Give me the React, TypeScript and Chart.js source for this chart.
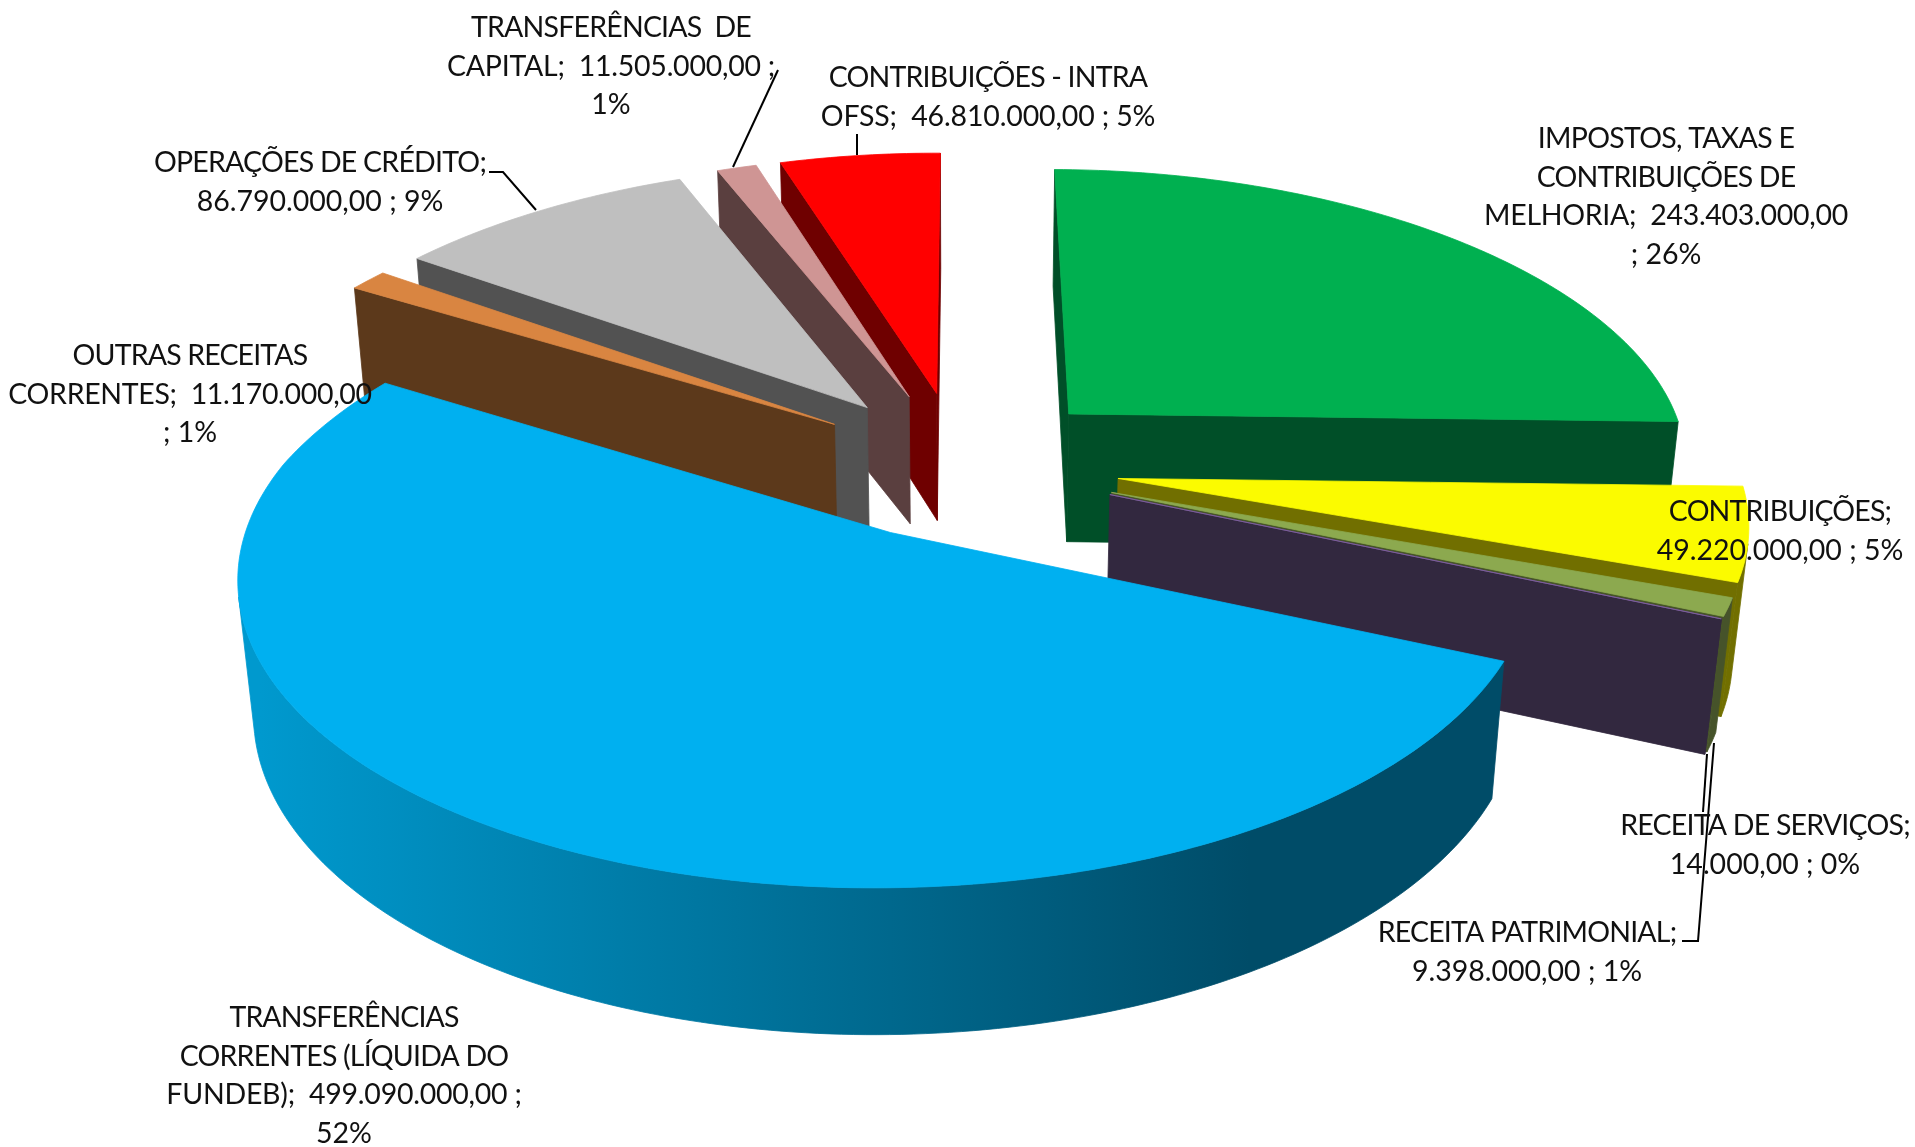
import React, { useEffect, useRef } from "react";
import { Chart, registerables } from "chart.js";

Chart.register(...registerables);

const categories = [
  "IMPOSTOS, TAXAS E CONTRIBUIÇÕES DE MELHORIA",
  "CONTRIBUIÇÕES",
  "RECEITA PATRIMONIAL",
  "RECEITA DE SERVIÇOS",
  "TRANSFERÊNCIAS CORRENTES (LÍQUIDA DO FUNDEB)",
  "OUTRAS RECEITAS CORRENTES",
  "OPERAÇÕES DE CRÉDITO",
  "TRANSFERÊNCIAS DE CAPITAL",
  "CONTRIBUIÇÕES - INTRA OFSS",
];
const values = [243403000, 49220000, 9398000, 14000, 499090000, 11170000, 86790000, 11505000, 46810000];

const labelLines = [
  ["IMPOSTOS, TAXAS E", "CONTRIBUIÇÕES DE", "MELHORIA;  243.403.000,00", "; 26%"],
  ["CONTRIBUIÇÕES;", "49.220.000,00 ; 5%"],
  ["RECEITA PATRIMONIAL;", "9.398.000,00 ; 1%"],
  ["RECEITA DE SERVIÇOS;", "14.000,00 ; 0%"],
  ["TRANSFERÊNCIAS", "CORRENTES (LÍQUIDA DO", "FUNDEB);  499.090.000,00 ;", "52%"],
  ["OUTRAS RECEITAS", "CORRENTES;  11.170.000,00", "; 1%"],
  ["OPERAÇÕES DE CRÉDITO;", "86.790.000,00 ; 9%"],
  ["TRANSFERÊNCIAS  DE", "CAPITAL;  11.505.000,00 ;", "1%"],
  ["CONTRIBUIÇÕES - INTRA", "OFSS;  46.810.000,00 ; 5%"],
];

// Styles and layout, in the order of the categories.
const topColors = ["#00B050", "#FBFB00", "#8CA94F", "#7F60A0", "#00B0F0", "#D98541", "#BFBFBF", "#CF9594", "#FF0000"];
const wallColors = ["#004F28", "#716F00", "#46532A", "#32283F", "#004C68", "#5C391B", "#525252", "#5A3F3F", "#6F0000"];
const rimLeftColors = ["#004F28", "#716F00", "#46532A", "#32283F", "#0099CE", "#5C391B", "#525252", "#5A3F3F", "#6F0000"];
const widthFit = [1, 0.992, 0.988, 0.986, 0.9876, 1, 1, 1, 1];
const shiftFit = [0, 0, 0, 0, -0.0065, 0, 0, 0, 0];
const labelAnchors = [
  [1666, 139], [1780, 512], [1527, 933], [1765, 826], [344, 1018], [190, 356], [320, 163], [611, 28], [988, 78],
];
const LINE_HEIGHT = 38.6;
const FONT = '28.5px Lato, "Open Sans", sans-serif';
const leaders = [
  [[778, 70], [733, 167]],
  [[857, 134], [857, 155]],
  [[489, 172], [503, 172], [536, 210]],
  [[1682, 941], [1698, 941], [1714, 743]],
  [[1707, 754], [1703, 812]],
];

// Camera of the 3D pie: unit radius world, explosion and thickness in radii.
const CAM = {
  ox: 964, oy: 464.5, a: 629, b: 289, c: 629, p: 0.131, pFar: 0.16, q: 0.1, qy: 0.075, r: 0.006,
  explodeX: 0.2467, explodeY: 0.257, skew: -0.0075, depth: 0.21,
};

type P = [number, number];

function project(x: number, y: number, z: number): P {
  const wx = 1 + (y > 0 ? CAM.pFar : CAM.p) * y + CAM.q * z + CAM.r * x;
  const wy = 1 + CAM.p * y + CAM.qy * z + CAM.r * x;
  return [CAM.ox + (CAM.a * x) / wx, CAM.oy + (-CAM.b * y + CAM.c * z) / wy];
}
function shoelace(pts: P[]) {
  let s = 0;
  pts.forEach((p, i) => {
    const n = pts[(i + 1) % pts.length];
    s += p[0] * n[1] - n[0] * p[1];
  });
  return s;
}
function fillPoly(ctx: CanvasRenderingContext2D, pts: P[], color: any) {
  ctx.beginPath();
  pts.forEach((p, i) => (i ? ctx.lineTo(p[0], p[1]) : ctx.moveTo(p[0], p[1])));
  ctx.closePath();
  ctx.fillStyle = color;
  ctx.strokeStyle = color;
  ctx.lineWidth = 0.8;
  ctx.lineJoin = "round";
  ctx.fill();
  ctx.stroke();
}

const pie3d = {
  id: "pie3d",
  beforeDatasetsDraw(chart: any) {
    const ctx: CanvasRenderingContext2D = chart.ctx;
    const arcs = chart.getDatasetMeta(0).data.map((arc: any, i: number) => {
      const { startAngle, endAngle } = arc.getProps(["startAngle", "endAngle"], true);
      const mid = (startAngle + endAngle) / 2;
      const ux = Math.cos(mid);
      const uy = -Math.sin(mid);
      return {
        i,
        startAngle,
        endAngle,
        cx: CAM.explodeX * ux + CAM.skew * uy + shiftFit[i],
        cy: CAM.explodeY * uy,
      };
    });
    arcs.sort((u: any, v: any) => v.cy - u.cy || u.i - v.i);
    ctx.save();
    for (const s of arcs) {
      const rim = (ang: number, z: number) =>
        project(s.cx + widthFit[s.i] * Math.cos(ang), s.cy - Math.sin(ang), z);
      const T = CAM.depth;
      const apexT = project(s.cx, s.cy, 0);
      const apexB = project(s.cx, s.cy, T);
      const startWall: P[] = [apexT, rim(s.startAngle, 0), rim(s.startAngle, T), apexB];
      const endWall: P[] = [apexT, rim(s.endAngle, 0), rim(s.endAngle, T), apexB];
      if (shoelace(startWall) < 0) fillPoly(ctx, startWall, wallColors[s.i]);
      if (shoelace(endWall) > 0) fillPoly(ctx, endWall, wallColors[s.i]);
      const n = Math.max(2, Math.ceil((s.endAngle - s.startAngle) * 60));
      const da = (s.endAngle - s.startAngle) / n;
      const shade = ctx.createLinearGradient(260, 0, 1250, 0);
      shade.addColorStop(0, rimLeftColors[s.i]);
      shade.addColorStop(1, wallColors[s.i]);
      const top: P[] = [apexT];
      let upper: P[] = [];
      let lower: P[] = [];
      const flush = () => {
        if (upper.length) fillPoly(ctx, [...upper, ...lower.reverse()], shade);
        upper = [];
        lower = [];
      };
      for (let k = 0; k <= n; k++) {
        const a0 = s.startAngle + k * da;
        top.push(rim(a0, 0));
        if (k === n) break;
        const quad: P[] = [rim(a0, 0), rim(a0 + da, 0), rim(a0 + da, T), rim(a0, T)];
        if (shoelace(quad) < 0) {
          if (!upper.length) {
            upper.push(quad[0]);
            lower.push(quad[3]);
          }
          upper.push(quad[1]);
          lower.push(quad[2]);
        } else {
          flush();
        }
      }
      flush();
      fillPoly(ctx, top, topColors[s.i]);
    }
    ctx.restore();
    return false;
  },
  afterDraw(chart: any) {
    const ctx: CanvasRenderingContext2D = chart.ctx;
    ctx.save();
    ctx.strokeStyle = "#000";
    ctx.lineWidth = 2;
    ctx.lineJoin = "miter";
    leaders.forEach((line) => {
      ctx.beginPath();
      line.forEach((p, i) => (i ? ctx.lineTo(p[0], p[1]) : ctx.moveTo(p[0], p[1])));
      ctx.stroke();
    });
    ctx.font = FONT;
    ctx.fillStyle = "#111";
    ctx.textAlign = "center";
    ctx.textBaseline = "middle";
    labelLines.forEach((lines, i) => {
      lines.forEach((text, j) => {
        const letters = (text.match(/[^\d\s.,;%]/g) || []).length;
        (ctx as any).letterSpacing = `${((-0.9 * letters) / text.length).toFixed(2)}px`;
        ctx.fillText(text, labelAnchors[i][0], labelAnchors[i][1] + j * LINE_HEIGHT);
      });
    });
    ctx.restore();
  },
};

export default function App() {
  const ref = useRef<HTMLCanvasElement>(null);
  useEffect(() => {
    const chart = new Chart(ref.current!, {
      type: "pie",
      data: {
        labels: categories,
        datasets: [{ data: values, backgroundColor: topColors, borderWidth: 0 }],
      },
      options: {
        animation: false,
        responsive: false,
        rotation: 0,
        layout: { padding: 0 },
        plugins: { legend: { display: false }, tooltip: { enabled: false }, title: { display: false } },
      },
      plugins: [pie3d],
    } as any);
    return () => chart.destroy();
  }, []);
  return (
    <div style={{ position: "fixed", left: 0, top: 0, width: 1915, height: 1147, background: "#fff" }}>
      <canvas ref={ref} width={1915} height={1147} style={{ display: "block" }} />
    </div>
  );
}
